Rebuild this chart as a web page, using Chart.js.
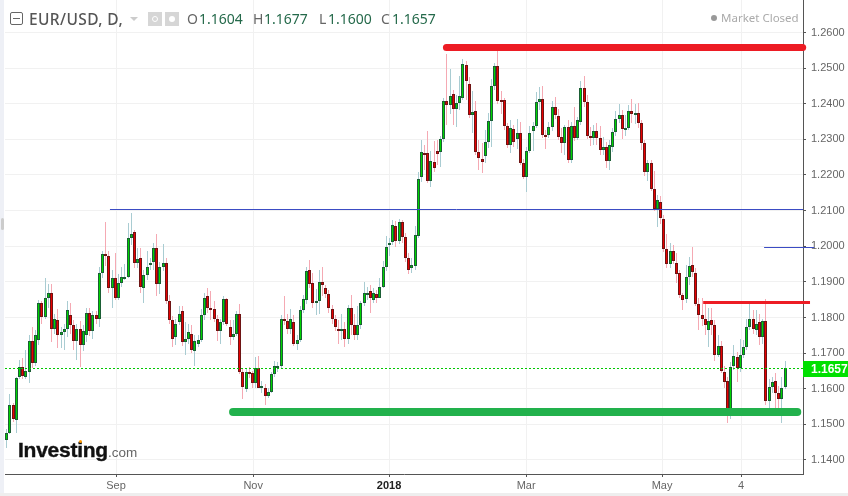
<!DOCTYPE html>
<html><head><meta charset="utf-8">
<style>
html,body{margin:0;padding:0;background:#fff;overflow:hidden}
#wrap{position:relative;width:848px;height:496px;overflow:hidden}
canvas{position:absolute;left:0;top:0}
.a{position:absolute;white-space:nowrap;line-height:1}
.h{font-family:"Noto Sans",sans-serif;font-size:14px;top:12px}
.l{color:#666}.v{color:#24694a}
</style>
<script src="https://cdn.jsdelivr.net/npm/chart.js@4/dist/chart.umd.min.js"></script>
</head><body><div id="wrap">
<canvas id="c" width="848" height="496"></canvas>
<div class="a" style="left:0;top:0;width:4px;height:496px;background:#eef0f6"></div>
<div class="a" style="left:1px;top:218px;width:3px;height:12px;border-radius:3px;background:#ccc"></div>
<div class="a" style="left:0;top:493px;width:848px;height:3px;background:#eee"></div>
<div class="a" style="left:10px;top:12px;width:11px;height:11px;border:1px solid #666;border-radius:2px"></div>
<div class="a" style="left:13px;top:18px;width:7px;height:1px;background:#666"></div>
<div class="a" style="left:29px;top:8px;font:500 15.5px 'Noto Sans',sans-serif;color:#555;letter-spacing:.4px">EUR/USD, D,</div>
<div class="a" style="left:130px;top:17px;width:0;height:0;border:4px solid transparent;border-top:4px solid #ccc"></div>
<div class="a" style="left:148px;top:12px;width:14px;height:14px;background:#d6d6d6"></div>
<div class="a" style="left:152px;top:16px;width:4px;height:4px;border:1px solid #fff;border-radius:50%"></div>
<div class="a" style="left:165px;top:12px;width:14px;height:14px;background:#d6d6d6"></div>
<div class="a" style="left:169px;top:16px;width:6px;height:6px;background:#fff;border-radius:50%"></div>
<span class="a h l" style="left:187px">O</span><span class="a h v" style="left:199px" id="vO">1.1604</span>
<span class="a h l" style="left:253px">H</span><span class="a h v" style="left:264px" id="vH">1.1677</span>
<span class="a h l" style="left:319px">L</span><span class="a h v" style="left:328px" id="vL">1.1600</span>
<span class="a h l" style="left:381px">C</span><span class="a h v" style="left:392px" id="vC">1.1657</span>
<div class="a" style="left:711px;top:15px;width:6px;height:6px;border-radius:50%;background:#999"></div>
<div class="a" style="left:721px;top:10px;font:11.5px 'Noto Sans',sans-serif;color:#aaa">Market Closed</div>
<div class="a" style="left:18px;top:438px;font:bold 21px 'Liberation Sans',sans-serif;color:#111;-webkit-text-stroke:.4px #111;letter-spacing:-.25px">Investing<span style="font:13.5px 'Liberation Sans',sans-serif;color:#666;-webkit-text-stroke:0;letter-spacing:0">.com</span></div>
<div class="a" style="left:79px;top:440px;width:3px;height:3px;background:#f90;border-radius:50%"></div>
</div>
<script>
const opens = [
1.1457,1.1477,1.1553,1.1511,1.1632,1.1660,1.1634,1.1646,1.1733,1.1671,
1.1736,1.1840,1.1800,1.1854,1.1870,1.1767,1.1792,1.1750,1.1758,1.1769,
1.1806,1.1778,1.1733,1.1767,1.1722,1.1750,1.1814,1.1761,1.1806,1.1797,
1.1924,1.1977,1.1972,1.1882,1.1910,1.1856,1.1896,1.1913,1.1915,1.2022,
1.2039,1.1952,1.1966,1.1882,1.1918,1.1949,1.1955,1.1994,1.1893,1.1941,
1.1952,1.1845,1.1792,1.1744,1.1786,1.1817,1.1730,1.1741,1.1755,1.1705,
1.1727,1.1738,1.1806,1.1859,1.1828,1.1823,1.1795,1.1761,1.1786,1.1851,
1.1772,1.1744,1.1755,1.1809,1.1648,1.1598,1.1648,1.1643,1.1615,1.1657,
1.1603,1.1603,1.1581,1.1592,1.1640,1.1663,1.1663,1.1795,1.1789,1.1767,
1.1786,1.1727,1.1736,1.1820,1.1848,1.1932,1.1896,1.1840,1.1845,1.1901,
1.1882,1.1865,1.1823,1.1795,1.1769,1.1764,1.1769,1.1741,1.1826,1.1778,
1.1752,1.1778,1.1840,1.1868,1.1873,1.1848,1.1865,1.1856,1.1887,1.1941,
1.2003,1.2011,1.2056,1.2014,1.2067,1.2025,1.1966,1.1938,1.1944,1.2028,
1.2194,1.2261,1.2261,1.2182,1.2236,1.2267,1.2264,1.2300,1.2407,1.2396,
1.2427,1.2385,1.2402,1.2416,1.2508,1.2455,1.2368,1.2379,1.2264,1.2244,
1.2253,1.2292,1.2351,1.2449,1.2506,1.2410,1.2410,1.2337,1.2284,1.2329,
1.2300,1.2317,1.2233,1.2194,1.2267,1.2323,1.2337,1.2404,1.2413,1.2312,
1.2312,1.2334,1.2390,1.2365,1.2306,1.2289,1.2334,1.2241,1.2337,1.2303,
1.2348,1.2444,1.2404,1.2309,1.2303,1.2323,1.2303,1.2270,1.2278,1.2239,
1.2278,1.2320,1.2357,1.2368,1.2329,1.2331,1.2379,1.2371,1.2373,1.2345,
1.2289,1.2208,1.2233,1.2160,1.2104,1.2123,1.2076,1.1991,1.1949,1.1988,
1.1952,1.1924,1.1862,1.1851,1.1915,1.1946,1.1924,1.1837,1.1806,1.1795,
1.1764,1.1792,1.1778,1.1694,1.1719,1.1648,1.1623,1.1530,1.1663,1.1688,
1.1657,1.1696,1.1716,1.1772,1.1797,1.1764,1.1786,1.1744,1.1789,1.1567,
1.1606,1.1623,1.1587,1.1570,1.1604];
const highs = [
1.1486,1.1584,1.1561,1.1634,1.1682,1.1685,1.1710,1.1750,1.1772,1.1764,
1.1848,1.1845,1.1910,1.1893,1.1893,1.1811,1.1823,1.1772,1.1783,1.1845,
1.1840,1.1792,1.1783,1.1789,1.1778,1.1828,1.1828,1.1817,1.1817,1.1941,
1.1986,1.2067,1.1986,1.1932,1.1980,1.1921,1.1941,1.1949,1.2064,1.2092,
1.2045,1.1994,1.1994,1.1932,1.1986,1.1966,1.2008,1.2033,1.1955,1.2005,
1.1966,1.1862,1.1803,1.1797,1.1831,1.1831,1.1786,1.1783,1.1778,1.1750,
1.1750,1.1823,1.1870,1.1882,1.1873,1.1845,1.1806,1.1797,1.1859,1.1856,
1.1792,1.1792,1.1817,1.1837,1.1657,1.1657,1.1660,1.1651,1.1688,1.1691,
1.1623,1.1612,1.1601,1.1646,1.1679,1.1674,1.1806,1.1859,1.1809,1.1823,
1.1806,1.1750,1.1831,1.1862,1.1941,1.1960,1.1924,1.1879,1.1932,1.1941,
1.1890,1.1876,1.1834,1.1806,1.1792,1.1811,1.1786,1.1834,1.1862,1.1811,
1.1831,1.1845,1.1901,1.1887,1.1890,1.1882,1.1876,1.1910,1.1958,1.2028,
1.2022,1.2073,1.2070,1.2076,1.2073,1.2036,1.1980,1.1966,1.2056,1.2208,
1.2298,1.2284,1.2323,1.2267,1.2295,1.2298,1.2309,1.2416,1.2539,1.2497,
1.2438,1.2424,1.2477,1.2525,1.2520,1.2475,1.2435,1.2407,1.2298,1.2289,
1.2326,1.2373,1.2469,1.2514,1.2551,1.2435,1.2416,1.2345,1.2354,1.2340,
1.2357,1.2348,1.2244,1.2278,1.2337,1.2348,1.2432,1.2446,1.2449,1.2326,
1.2348,1.2407,1.2418,1.2385,1.2331,1.2340,1.2354,1.2348,1.2390,1.2362,
1.2463,1.2477,1.2424,1.2334,1.2340,1.2345,1.2337,1.2306,1.2292,1.2298,
1.2331,1.2379,1.2399,1.2382,1.2368,1.2396,1.2413,1.2399,1.2402,1.2354,
1.2298,1.2241,1.2241,1.2211,1.2143,1.2140,1.2087,1.2033,1.2008,1.2003,
1.1980,1.1932,1.1870,1.1946,1.1969,1.1997,1.1938,1.1854,1.1854,1.1837,
1.1828,1.1828,1.1792,1.1750,1.1733,1.1663,1.1634,1.1674,1.1724,1.1702,
1.1741,1.1736,1.1797,1.1837,1.1820,1.1820,1.1811,1.1797,1.1851,1.1626,
1.1634,1.1643,1.1609,1.1632,1.1677];
const lows = [
1.1435,1.1474,1.1508,1.1477,1.1626,1.1626,1.1626,1.1615,1.1657,1.1663,
1.1722,1.1783,1.1797,1.1828,1.1730,1.1755,1.1713,1.1713,1.1708,1.1744,
1.1755,1.1708,1.1682,1.1660,1.1705,1.1730,1.1747,1.1741,1.1783,1.1772,
1.1910,1.1944,1.1868,1.1826,1.1848,1.1848,1.1887,1.1904,1.1910,1.2003,
1.1938,1.1938,1.1870,1.1840,1.1904,1.1932,1.1932,1.1859,1.1865,1.1930,
1.1837,1.1783,1.1716,1.1722,1.1778,1.1719,1.1694,1.1727,1.1699,1.1665,
1.1716,1.1730,1.1792,1.1814,1.1792,1.1786,1.1733,1.1727,1.1778,1.1775,
1.1724,1.1736,1.1747,1.1640,1.1572,1.1592,1.1629,1.1603,1.1603,1.1601,
1.1587,1.1553,1.1575,1.1589,1.1632,1.1646,1.1657,1.1778,1.1755,1.1755,
1.1719,1.1710,1.1730,1.1814,1.1837,1.1882,1.1826,1.1806,1.1809,1.1859,
1.1854,1.1814,1.1783,1.1761,1.1727,1.1736,1.1716,1.1727,1.1750,1.1736,
1.1736,1.1769,1.1831,1.1848,1.1814,1.1840,1.1840,1.1854,1.1882,1.1930,
1.1972,1.2003,1.1997,1.2005,1.2008,1.1955,1.1921,1.1924,1.1932,1.2022,
1.2180,1.2213,1.2177,1.2166,1.2208,1.2227,1.2222,1.2292,1.2340,1.2371,
1.2340,1.2334,1.2382,1.2410,1.2410,1.2359,1.2317,1.2255,1.2213,1.2205,
1.2233,1.2275,1.2278,1.2438,1.2399,1.2371,1.2326,1.2275,1.2261,1.2278,
1.2272,1.2227,1.2188,1.2151,1.2261,1.2267,1.2331,1.2382,1.2303,1.2272,
1.2303,1.2323,1.2357,1.2297,1.2261,1.2255,1.2233,1.2233,1.2295,1.2297,
1.2340,1.2390,1.2300,1.2281,1.2284,1.2284,1.2255,1.2255,1.2219,1.2213,
1.2264,1.2309,1.2345,1.2300,1.2309,1.2326,1.2345,1.2342,1.2331,1.2270,
1.2196,1.2182,1.2154,1.2098,1.2053,1.2062,1.1983,1.1938,1.1938,1.1949,
1.1896,1.1854,1.1820,1.1842,1.1890,1.1915,1.1831,1.1764,1.1775,1.1752,
1.1716,1.1750,1.1679,1.1688,1.1643,1.1601,1.1505,1.1516,1.1654,1.1618,
1.1648,1.1685,1.1708,1.1764,1.1755,1.1750,1.1722,1.1727,1.1553,1.1547,
1.1589,1.1544,1.1547,1.1505,1.1600];
const closes = [
1.1477,1.1553,1.1514,1.1629,1.1660,1.1637,1.1651,1.1733,1.1671,1.1750,
1.1840,1.1800,1.1854,1.1868,1.1769,1.1795,1.1750,1.1758,1.1769,1.1820,
1.1778,1.1733,1.1769,1.1722,1.1761,1.1814,1.1761,1.1806,1.1797,1.1924,
1.1977,1.1972,1.1882,1.1910,1.1856,1.1896,1.1913,1.1915,1.2022,1.2033,
1.1952,1.1963,1.1885,1.1918,1.1941,1.1952,1.1994,1.1893,1.1941,1.1952,
1.1845,1.1792,1.1741,1.1783,1.1811,1.1730,1.1741,1.1758,1.1708,1.1733,
1.1738,1.1806,1.1856,1.1826,1.1823,1.1795,1.1761,1.1786,1.1851,1.1783,
1.1744,1.1755,1.1811,1.1648,1.1606,1.1648,1.1643,1.1615,1.1657,1.1603,
1.1609,1.1581,1.1592,1.1640,1.1663,1.1665,1.1797,1.1789,1.1767,1.1795,
1.1727,1.1736,1.1820,1.1851,1.1930,1.1893,1.1840,1.1845,1.1901,1.1890,
1.1865,1.1826,1.1795,1.1772,1.1764,1.1767,1.1741,1.1826,1.1778,1.1752,
1.1778,1.1840,1.1870,1.1870,1.1856,1.1868,1.1856,1.1887,1.1941,1.1997,
1.2008,1.2059,1.2014,1.2067,1.2025,1.1966,1.1932,1.1946,1.2031,1.2188,
1.2264,1.2256,1.2182,1.2239,1.2219,1.2258,1.2300,1.2407,1.2396,1.2421,
1.2385,1.2402,1.2421,1.2511,1.2463,1.2368,1.2376,1.2264,1.2247,1.2236,
1.2292,1.2351,1.2449,1.2506,1.2407,1.2407,1.2337,1.2284,1.2331,1.2292,
1.2317,1.2233,1.2194,1.2267,1.2317,1.2337,1.2404,1.2413,1.2312,1.2306,
1.2334,1.2390,1.2368,1.2306,1.2289,1.2334,1.2241,1.2337,1.2303,1.2354,
1.2444,1.2404,1.2309,1.2303,1.2323,1.2303,1.2270,1.2278,1.2239,1.2284,
1.2320,1.2357,1.2368,1.2329,1.2331,1.2379,1.2371,1.2373,1.2345,1.2289,
1.2208,1.2233,1.2160,1.2104,1.2129,1.2078,1.1991,1.1949,1.1986,1.1958,
1.1921,1.1862,1.1848,1.1913,1.1944,1.1927,1.1837,1.1806,1.1795,1.1778,
1.1789,1.1778,1.1696,1.1719,1.1651,1.1620,1.1525,1.1660,1.1691,1.1657,
1.1696,1.1716,1.1772,1.1797,1.1767,1.1783,1.1744,1.1789,1.1567,1.1606,
1.1620,1.1587,1.1570,1.1601,1.1657];
const yTicks = [1.14,1.15,1.16,1.17,1.18,1.19,1.20,1.21,1.22,1.23,1.24,1.25,1.26];
const xTickLabels = ['Sep','Nov','2018','Mar','May','4'];
const xTickIndex = [34.4,77.4,120,163,205.6,230.4];
const lastPrice = 1.1657;
const resistanceTop = 1.2559, supportBottom = 1.1536, levelA = 1.2102, levelB = 1.1996, resistanceLow = 1.1842;

const idx = opens.map((_,i)=>i);
const up = i => closes[i] >= opens[i];
const wickData = idx.map(i=>({x:i,y:[lows[i],highs[i]]}));
const bodyData = idx.map(i=>({x:i,y:[opens[i],closes[i]]}));

const snap = {
  id:'snap',
  afterDatasetsUpdate(chart){
    chart.data.datasets.forEach((d,n)=>{
      const pts = chart.getDatasetMeta(n).data;
      if(d.type==='bar'){
        pts.forEach(el=>{
          el.x = Math.round(el.x)+0.5;
          let t=Math.round(Math.min(el.y,el.base)), b=Math.round(Math.max(el.y,el.base));
          if(b-t<2) b=t+2;
          el.y=t; el.base=b;
        });
      } else {
        pts.forEach(el=>{
          el.y = d.borderWidth%2 ? Math.floor(el.y)+0.5 : Math.round(el.y);
        });
      }
    });
  }
};
const priceBox = {
  id:'priceBox',
  afterDraw(chart){
    const y=chart.scales.y.getPixelForValue(lastPrice), c=chart.ctx, l=chart.chartArea.right;
    c.save();
    c.fillStyle='#00e000'; c.fillRect(l,Math.round(y)-7,45,16);
    c.fillStyle='#fff'; c.font="bold 12px 'Liberation Sans',sans-serif"; c.textBaseline='middle'; c.textAlign='left';
    c.fillText(lastPrice.toFixed(4),l+8,Math.round(y)+2);
    c.restore();
  }
};
const hline = (v,a,b,color,width,extra,order) => Object.assign({
  type:'line', data:[{x:a,y:v},{x:b,y:v}], borderColor:color, borderWidth:width,
  pointRadius:0, clip:false, order:order, tension:0, fill:false
},extra||{});

new Chart(document.getElementById('c'),{
  type:'bar',
  data:{datasets:[
    {type:'bar',data:wickData,grouped:false,barThickness:1,borderWidth:0,inflateAmount:0,order:6,
      backgroundColor:idx.map(i=>up(i)?'#a9ccd2':'#f5a9b3')},
    {type:'bar',data:bodyData,grouped:false,barThickness:3,borderWidth:1,borderSkipped:false,inflateAmount:0,order:5,
      backgroundColor:idx.map(i=>up(i)?'#00d400':'#e80000'),
      borderColor:idx.map(i=>up(i)?'#1b5e35':'#6e1414')},
    hline(lastPrice,-0.41,249.8,'#00c800',1,{borderDash:[2,2]},4),
    hline(levelA,32.5,249.8,'#3b4cc4',1,null,3),
    hline(levelB,237.6,253.3,'#3b4cc4',1,null,3),
    hline(resistanceLow,218.5,252,'#ed1c24',3,null,2),
    hline(resistanceTop,138,249.7,'#ed1c24',7,{borderCapStyle:'round'},1),
    hline(supportBottom,71.1,248,'#22b14c',8,{borderCapStyle:'round'},1)
  ]},
  plugins:[snap,priceBox],
  options:{
    responsive:false,animation:false,
    layout:{padding:{left:5,right:0,top:0,bottom:0}},
    plugins:{legend:{display:false},tooltip:{enabled:false},title:{display:false}},
    scales:{
      x:{type:'linear',min:-0.41,max:249.8,offset:false,position:'bottom',
        afterFit(s){s.height=22;s.paddingLeft=0;s.paddingRight=0;},
        afterBuildTicks(s){s.ticks=xTickIndex.map(v=>({value:v}));},
        grid:{offset:false,color:'#f1f1f1',tickColor:'#555',tickLength:3},
        border:{color:'#555',width:1},
        ticks:{autoSkip:false,maxRotation:0,padding:2,
          callback(v){return xTickLabels[xTickIndex.indexOf(v)];},
          color(ctx){return ctx.index===2?'#222':'#666';},
          font(ctx){return {family:"'Liberation Sans',sans-serif",size:11,weight:ctx.index===2?'bold':'normal'};}}
      },
      y:{type:'linear',position:'right',min:1.13607,max:1.26912,
        afterFit(s){s.width=45;s.paddingTop=0;s.paddingBottom=0;},
        afterBuildTicks(s){s.ticks=yTicks.map(v=>({value:v}));},
        grid:{color:'#f1f1f1',tickColor:'#555',tickLength:3},
        border:{color:'#555',width:1},
        ticks:{padding:5,color:'#666',font:{family:"'Liberation Sans',sans-serif",size:11},
          callback(v){return Number(v).toFixed(4);}}
      }
    }
  }
});
</script></body></html>
